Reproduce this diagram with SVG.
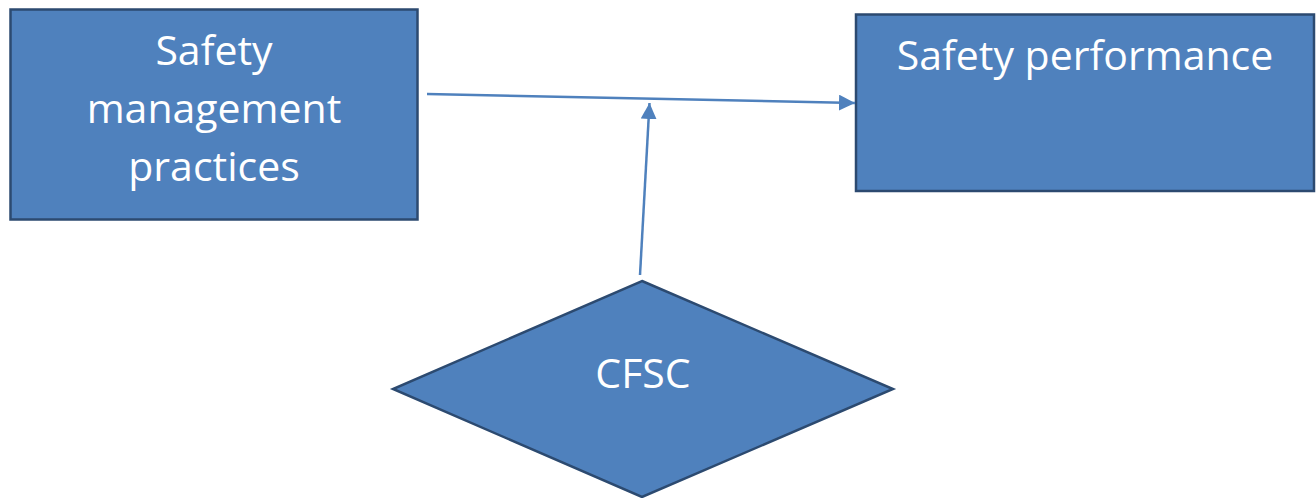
<svg xmlns="http://www.w3.org/2000/svg" width="1316" height="498" viewBox="0 0 1316 498">
  <style>
    .node { fill: #4f81bd; stroke: #2c4a70; stroke-width: 2.5; }
    .label { fill: #ffffff; font-family: "Open Sans", "Liberation Sans", sans-serif; font-size: 41px; text-anchor: middle; }
    .conn { stroke: #4f81bd; stroke-width: 2.5; fill: none; marker-end: url(#arrow); }
  </style>
  <defs>
    <marker id="arrow" markerUnits="userSpaceOnUse" markerWidth="16" markerHeight="16" viewBox="0 0 16 16" refX="16" refY="8" orient="auto">
      <path d="M0,0 L16,8 L0,16 Z" fill="#4f81bd"/>
    </marker>
  </defs>
  <rect width="1316" height="498" fill="#ffffff"/>
  <g id="node-smp">
    <rect class="node" x="10.5" y="9.5" width="407" height="210"/>
    <text class="label" x="214" y="65">Safety</text>
    <text class="label" x="214" y="123">management</text>
    <text class="label" x="214" y="181">practices</text>
  </g>
  <g id="node-sp">
    <rect class="node" x="856" y="14.5" width="458" height="176.5"/>
    <text class="label" x="1085" y="70">Safety performance</text>
  </g>
  <g id="node-cfsc">
    <polygon class="node" points="642,281 893,389 642,497 393,389"/>
    <text class="label" x="643" y="388">CFSC</text>
  </g>
  <g id="connectors">
    <line class="conn" x1="427" y1="94" x2="855" y2="103"/>
    <line class="conn" x1="640" y1="275" x2="649.5" y2="103"/>
  </g>
</svg>
